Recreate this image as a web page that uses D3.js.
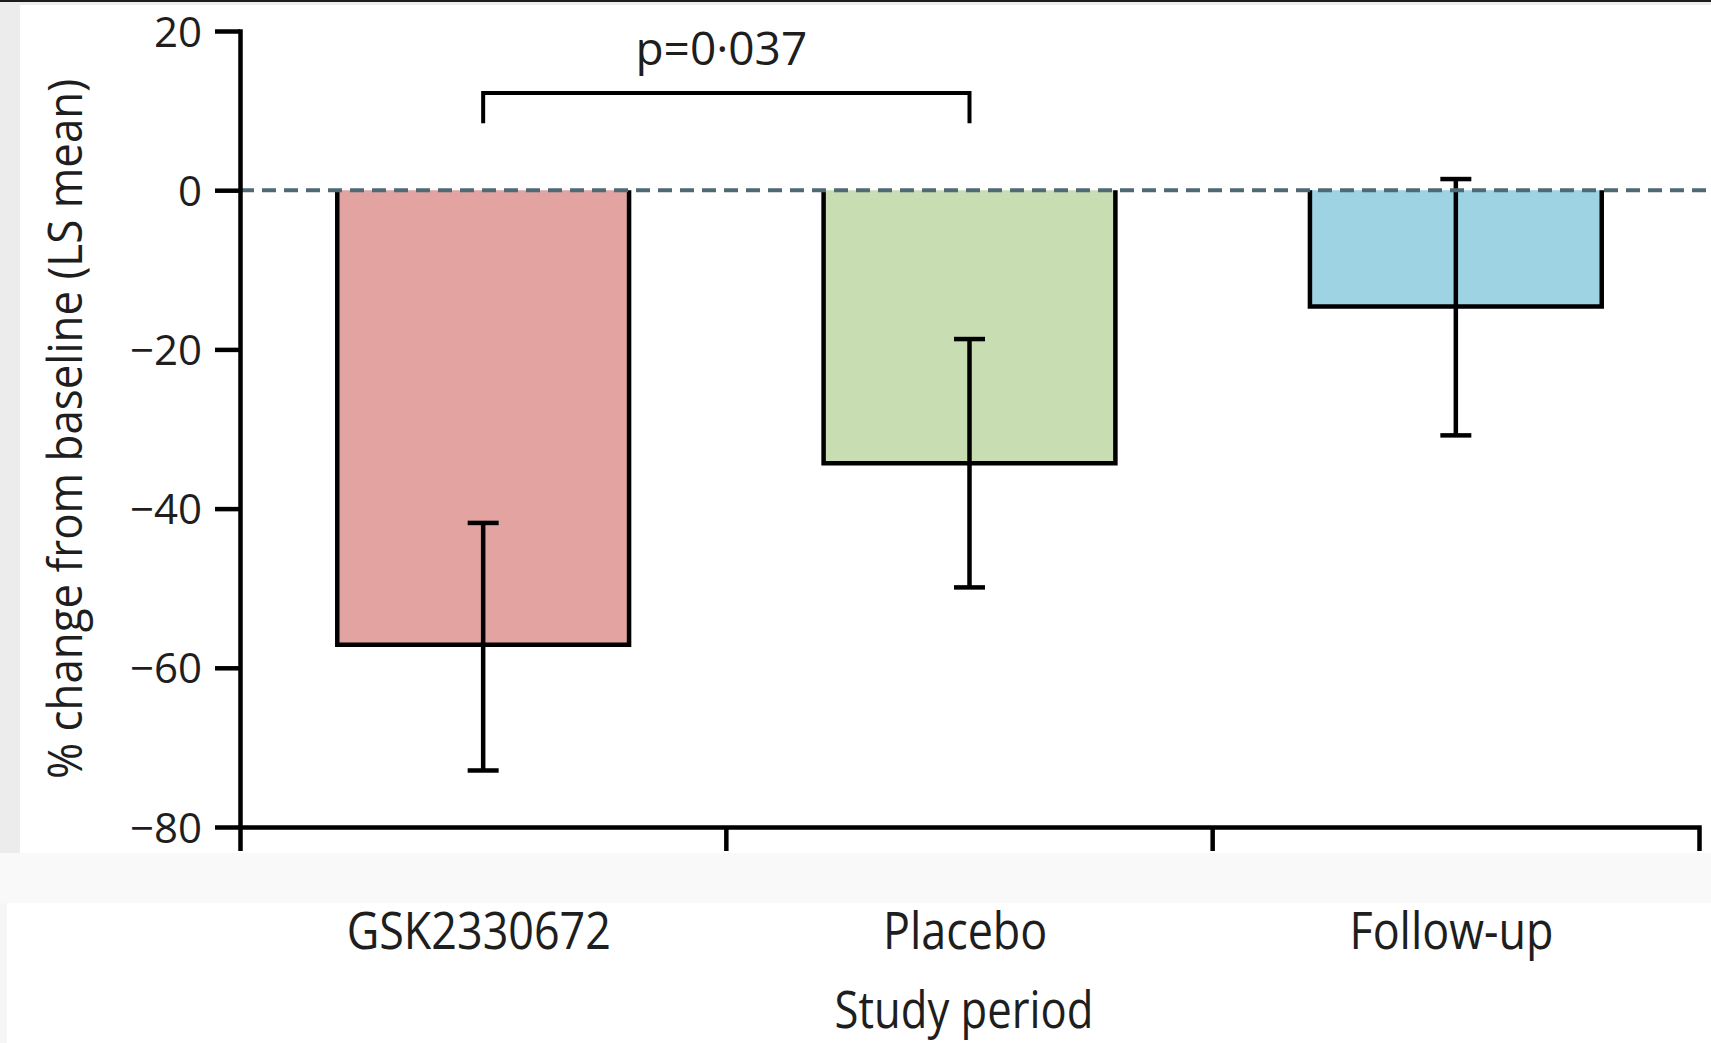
<!DOCTYPE html>
<html>
<head>
<meta charset="utf-8">
<script src="https://cdn.jsdelivr.net/npm/d3@7/dist/d3.min.js"></script>
<style>
  html, body { margin: 0; padding: 0; background: #fff; }
  svg { display: block; }
  text { font-family: 'Open Sans', sans-serif; fill: #1e1e1e; }
</style>
</head>
<body>
<div id="chart"></div>
<script>
// data
var categories = ['GSK2330672', 'Placebo', 'Follow-up'];
var means = [-57.1, -34.3, -14.6];
var upper = [-41.8, -18.7, 1.4];
var lower = [-72.9, -49.9, -30.8];
var yTicks = [20, 0, -20, -40, -60, -80];
var pLabel = 'p=0·037';

var colors = ['#e2a3a1', '#c8ddb1', '#9dd3e3'];

var chart_width = 1711;
var chart_height = 1043;
var lw = 4.5;

var svg = d3.select('#chart')
  .append('svg')
  .attr('width', chart_width)
  .attr('height', chart_height);

// page frame around the scanned figure
svg.append('rect').attr('x', 0).attr('y', 0).attr('width', 20).attr('height', 853).attr('fill', '#ececec');
svg.append('rect').attr('x', 0).attr('y', 853).attr('width', chart_width).attr('height', 50).attr('fill', '#f9f9f9');
svg.append('rect').attr('x', 0).attr('y', 903).attr('width', 7).attr('height', 140).attr('fill', '#f6f6f6');
svg.append('rect').attr('x', 20).attr('y', 2).attr('width', chart_width).attr('height', 3).attr('fill', '#ededed');
svg.append('rect').attr('x', 0).attr('y', 0).attr('width', chart_width).attr('height', 2).attr('fill', '#1c1c1c');

// scales
var y = d3.scaleLinear().domain([-80, 20]).range([827, 31]);
var x = d3.scaleBand().domain(categories).range([240, 1699]);
var barW = x.bandwidth() * 0.6;
var cx = function(i) { return x(categories[i]) + x.bandwidth() / 2; };

// bars, open at the top (the zero line sits there)
svg.selectAll('path.bar')
  .data(means)
  .enter()
  .append('path')
  .attr('class', 'bar')
  .attr('d', function(d, i) {
    var l = cx(i) - barW / 2, r = cx(i) + barW / 2;
    return 'M' + l + ',' + y(0) + 'V' + y(d) + 'H' + r + 'V' + y(0);
  })
  .attr('fill', (d, i) => colors[i])
  .attr('stroke', '#000')
  .attr('stroke-width', lw);

// error bars
var err = svg.selectAll('g.err')
  .data(means)
  .enter()
  .append('g')
  .attr('class', 'err')
  .attr('stroke', '#000')
  .attr('stroke-width', lw);

err.append('line')
  .attr('x1', (d, i) => cx(i)).attr('x2', (d, i) => cx(i))
  .attr('y1', (d, i) => y(upper[i])).attr('y2', (d, i) => y(lower[i]));
err.append('line')
  .attr('x1', (d, i) => cx(i) - 15.5).attr('x2', (d, i) => cx(i) + 15.5)
  .attr('y1', (d, i) => y(upper[i])).attr('y2', (d, i) => y(upper[i]));
err.append('line')
  .attr('x1', (d, i) => cx(i) - 15.5).attr('x2', (d, i) => cx(i) + 15.5)
  .attr('y1', (d, i) => y(lower[i])).attr('y2', (d, i) => y(lower[i]));

// dashed zero line
svg.append('line')
  .attr('x1', 240).attr('x2', chart_width)
  .attr('y1', y(0)).attr('y2', y(0))
  .attr('stroke', '#4f6a75')
  .attr('stroke-width', 4)
  .attr('stroke-dasharray', '14,8');

// y axis
var yAxis = d3.axisLeft(y)
  .tickValues(yTicks)
  .tickSize(25)
  .tickSizeOuter(0)
  .tickPadding(13)
  .tickFormat(d => d < 0 ? '\u2212' + Math.abs(d) : d);

var gy = svg.append('g')
  .attr('transform', 'translate(240,0)')
  .call(yAxis);
gy.select('.domain').attr('stroke-width', lw).attr('stroke-linecap', 'square');
gy.selectAll('.tick line').attr('stroke-width', lw);
gy.selectAll('.tick text')
  .style('font-family', "'Open Sans', sans-serif")
  .style('font-size', '42px')
  .attr('fill', '#1e1e1e')
  .attr('dy', '0.36em');

// x axis, labels at band centres, ticks at band edges
var xAxis = d3.axisBottom(x)
  .tickSize(0)
  .tickSizeOuter(24)
  .tickPadding(86);

var gx = svg.append('g')
  .attr('transform', 'translate(0,' + y(-80) + ')')
  .call(xAxis);
gx.select('.domain').attr('stroke-width', lw);
// the source face is a narrow one, so squeeze the labels a little
gx.selectAll('.tick text')
  .style('font-family', "'Open Sans', sans-serif")
  .style('font-size', '51px')
  .attr('fill', '#1e1e1e')
  .attr('dx', -5)
  .attr('transform', 'scale(0.88,1)');

gx.selectAll('line.edge')
  .data(categories.slice(1))
  .enter()
  .append('line')
  .attr('class', 'edge')
  .attr('x1', d => x(d)).attr('x2', d => x(d))
  .attr('y1', 0).attr('y2', 24)
  .attr('stroke', '#000')
  .attr('stroke-width', lw);

// axis titles
svg.append('text')
  .attr('transform', 'translate(964,1028) scale(0.855,1)')
  .attr('text-anchor', 'middle')
  .style('font-size', '51px')
  .text('Study period');

svg.append('text')
  .attr('transform', 'translate(82,429) rotate(-90) scale(0.914,1)')
  .attr('text-anchor', 'middle')
  .style('font-size', '48px')
  .text('% change from baseline (LS mean)');

// significance bracket
svg.append('path')
  .attr('d', 'M' + cx(0) + ',' + y(8.4) + 'V' + y(12.2) + 'H' + cx(1) + 'V' + y(8.4))
  .attr('fill', 'none')
  .attr('stroke', '#000')
  .attr('stroke-width', 4);

svg.append('text')
  .attr('x', (cx(0) + cx(1)) / 2 - 5)
  .attr('y', y(12.2) - 28)
  .attr('text-anchor', 'middle')
  .style('font-size', '46px')
  .text(pLabel);
</script>
</body>
</html>
